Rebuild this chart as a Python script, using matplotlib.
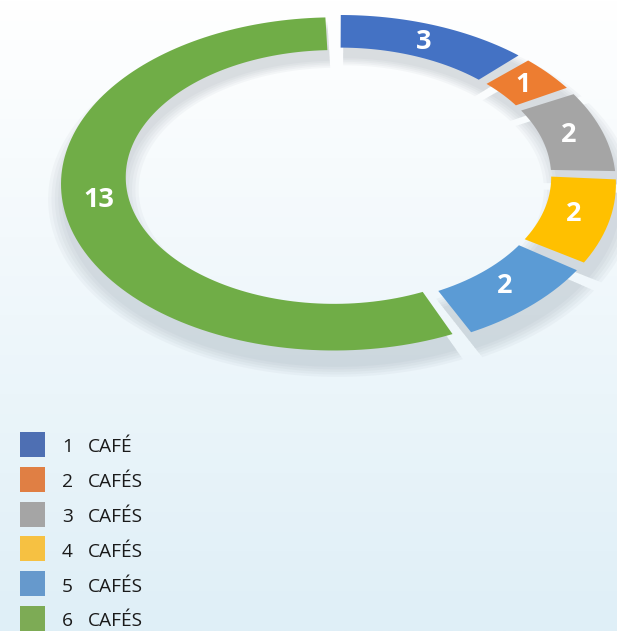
import numpy as np
import matplotlib.pyplot as plt
from matplotlib.patches import Rectangle
from matplotlib.path import Path
from matplotlib.transforms import Transform, Affine2D

# données
categories = ['1 CAFÉ', '2 CAFÉS', '3 CAFÉS', '4 CAFÉS', '5 CAFÉS', '6 CAFÉS']
valeurs = [3, 1, 2, 2, 2, 13]
couleurs = ['#4472c4', '#ed7d31', '#a5a5a5', '#ffc000', '#5b9bd5', '#70ad47']
couleurs_legende = ['#4e6fb3', '#e07f44', '#a5a5a5', '#f6c142', '#6699cc', '#7dab55']

plt.rcParams['font.family'] = ['Open Sans', 'DejaVu Sans']


class Perspective(Transform):
    """anneau vu en perspective : le fond (v>0) est plus petit"""
    input_dims = 2
    output_dims = 2

    def __init__(self, k):
        super().__init__()
        self.k = k

    def transform_non_affine(self, xy):
        xy = np.asarray(xy, dtype=float)
        d = 1 + self.k * xy[:, 1]
        return np.column_stack([xy[:, 0] / d, xy[:, 1] / d])

    def transform_path_non_affine(self, path):
        polys = path.to_polygons(Affine2D().scale(1000), closed_only=True)
        verts = np.concatenate(polys) / 1000
        return Path(self.transform_non_affine(verts))


fig = plt.figure(figsize=(6.17, 6.31), dpi=100)

# fond dégradé
bg = fig.add_axes([0, 0, 1, 1], zorder=-1)
grad = np.linspace(0, 1, 256).reshape(-1, 1)
top = np.array([1.0, 1.0, 1.0])
bottom = np.array([0xdf, 0xef, 0xf7]) / 255
img = top + (bottom - top) * grad[..., None]
bg.imshow(img, extent=[0, 1, 0, 1], aspect='auto')
bg.axis('off')

# axe du donut (centre 338.5, 166.7 px ; échelles 272 / 164.8 px)
cx, cy, sx, sy, lim = 338.5, 166.7, 272, 164.8, 1.2
ax = fig.add_axes([(cx - lim * sx) / 617, (631 - cy - lim * sy) / 631,
                   2 * lim * sx / 617, 2 * lim * sy / 631])
persp = Perspective(0.1)
explode = [0.015] * len(valeurs)
ecart = 1.2  # degrés retirés de chaque côté
debut_angle = 91


def preparer(ws):
    for w in ws:
        t1, t2 = w.theta1, w.theta2
        w.set_theta1(t1 + ecart)
        w.set_theta2(t2 - ecart)
        w.set_transform(persp + ax.transData)


# ombre floue sous l'anneau
for k in range(5):
    ombre, _ = ax.pie(valeurs, colors=['#6f7c88'] * len(valeurs), startangle=debut_angle,
                      counterclock=False, explode=explode, radius=1 + 0.012 * k,
                      center=(0.01, -0.08),
                      wedgeprops=dict(width=0.23 + 0.024 * k, alpha=0.05, edgecolor='none'))
    preparer(ombre)

wedges, _ = ax.pie(valeurs, colors=couleurs, startangle=debut_angle, counterclock=False,
                   explode=explode, wedgeprops=dict(width=0.235, edgecolor='none'))
preparer(wedges)

# étiquettes
total = sum(valeurs)
debut = debut_angle
for v in valeurs:
    mid = np.deg2rad(debut - v / total * 360 / 2)
    debut -= v / total * 360
    px, py = persp.transform(np.array([[0.885 * np.cos(mid), 0.885 * np.sin(mid)]]))[0]
    ax.text(px, py, str(v), color='white', fontsize=19.5, fontweight='bold',
            ha='center', va='center')

ax.set_aspect('auto')
ax.set_xlim(-lim, lim)
ax.set_ylim(-lim, lim)
ax.axis('off')

# légende (axe en pixels)
leg = fig.add_axes([0, 0, 1, 1])
leg.set_xlim(0, 617)
leg.set_ylim(631, 0)
leg.axis('off')
for i, (lab, c) in enumerate(zip(categories, couleurs_legende)):
    yc = 444.5 + 34.8 * i
    leg.add_patch(Rectangle((20, yc - 12.5), 25, 25, facecolor=c, edgecolor='none'))
    num, mot = lab.split(' ')
    leg.text(62, yc + 1, num, fontsize=13.8, color='#1a1a1a', va='center_baseline')
    leg.text(88, yc + 1, mot, fontsize=13.8, color='#1a1a1a', va='center_baseline')

plt.savefig('out.png', dpi=100)
